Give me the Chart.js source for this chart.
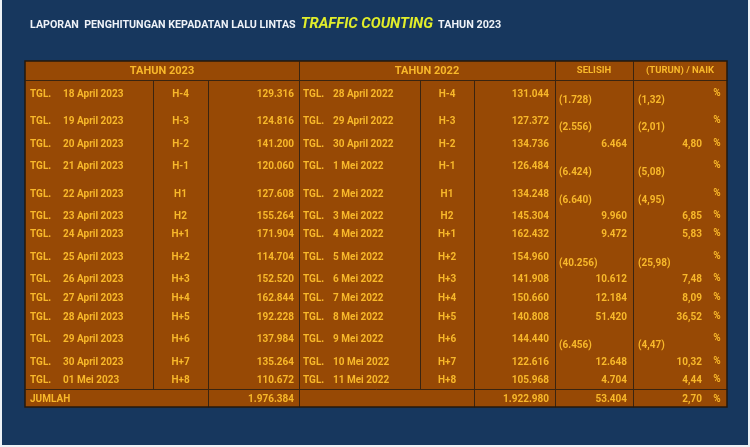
<!DOCTYPE html>
<html>
<head>
<meta charset="utf-8">
<script src="https://cdn.jsdelivr.net/npm/chart.js@4.4.1/dist/chart.umd.min.js"></script>
<style>
  html, body { margin: 0; padding: 0; background: #eef2f6; }
  #wrap { position: absolute; left: 2px; top: 0; width: 748px; height: 445px; }
</style>
</head>
<body>
<div id="wrap"><canvas id="tabel"></canvas></div>
<script>
// === DATA ===
const hari = ['H-4', 'H-3', 'H-2', 'H-1', 'H1', 'H2', 'H+1', 'H+2', 'H+3', 'H+4', 'H+5', 'H+6', 'H+7', 'H+8'];
const tanggal2023 = ['18 April 2023', '19 April 2023', '20 April 2023', '21 April 2023', '22 April 2023', '23 April 2023',
  '24 April 2023', '25 April 2023', '26 April 2023', '27 April 2023', '28 April 2023', '29 April 2023', '30 April 2023', '01 Mei 2023'];
const tanggal2022 = ['28 April 2022', '29 April 2022', '30 April 2022', '1 Mei 2022', '2 Mei 2022', '3 Mei 2022',
  '4 Mei 2022', '5 Mei 2022', '6 Mei 2022', '7 Mei 2022', '8 Mei 2022', '9 Mei 2022', '10 Mei 2022', '11 Mei 2022'];
const volume2023 = [129316, 124816, 141200, 120060, 127608, 155264, 171904, 114704, 152520, 162844, 192228, 137984, 135264, 110672];
const volume2022 = [131044, 127372, 134736, 126484, 134248, 145304, 162432, 154960, 141908, 150660, 140808, 144440, 122616, 105968];
const selisih = [-1728, -2556, 6464, -6424, -6640, 9960, 9472, -40256, 10612, 12184, 51420, -6456, 12648, 4704];
const persen = [-1.32, -2.01, 4.80, -5.08, -4.95, 6.85, 5.83, -25.98, 7.48, 8.09, 36.52, -4.47, 10.32, 4.44];
const jumlah = { v2023: 1976384, v2022: 1922980, selisih: 53404, persen: 2.70 };
const judulKolom = ['TAHUN 2023', 'TAHUN 2022', 'SELISIH', '(TURUN) / NAIK'];

// === LAYOUT (koordinat grid 0..750 x 0..447) ===
const kolom = [25, 153, 208, 299, 420, 474, 555, 633, 727];
const barisTengah = [94, 121, 144, 166, 194, 216, 234, 257, 279, 298, 317, 339, 362, 380];
const tabelAtas = 61, headerBawah = 80, garisJumlah = 389, tabelBawah = 407, barisJumlah = 399;

const WARNA_BG = '#17375e';
const WARNA_SEL = '#974905';
const WARNA_TEKS = '#f8b82a';
const WARNA_GARIS = '#3a2410';
const FONT = 'Roboto, "Open Sans", sans-serif';
const TEBAL = 'bold ';

// format angka pakai titik ribuan
function ribuan(n) {
  return String(Math.abs(n)).replace(/\B(?=(\d{3})+(?!\d))/g, '.');
}
function fmtSelisih(n) {
  return n < 0 ? '(' + ribuan(n) + ')' : ribuan(n);
}
function fmtPersen(p) {
  const s = Math.abs(p).toFixed(2).replace('.', ',');
  return p < 0 ? '(' + s + ')' : s;
}

const tabelPlugin = {
  id: 'tabel',
  beforeDraw(chart) {
    const ctx = chart.ctx;
    const sx = chart.scales.x, sy = chart.scales.y;
    const X = v => sx.getPixelForValue(v);
    const Y = v => sy.getPixelForValue(v);

    ctx.save();
    // latar biru
    ctx.fillStyle = WARNA_BG;
    ctx.fillRect(X(0), Y(0), X(748) - X(0), Y(445) - Y(0));

    // judul
    ctx.textBaseline = 'middle';
    ctx.textAlign = 'left';
    let tx = X(30);
    const ty = Y(25.5);
    ctx.fillStyle = '#eef2f8';
    ctx.font = TEBAL + '10.7px ' + FONT;
    const t1 = 'LAPORAN  PENGHITUNGAN KEPADATAN LALU LINTAS';
    ctx.fillText(t1, tx, ty);
    tx += ctx.measureText(t1).width + 5;
    ctx.fillStyle = '#e2ee2a';
    ctx.font = 'italic ' + TEBAL + '14.8px ' + FONT;
    const t2 = 'TRAFFIC COUNTING';
    ctx.fillText(t2, tx, ty - 1);
    tx += ctx.measureText(t2).width + 5;
    ctx.fillStyle = '#eef2f8';
    ctx.font = TEBAL + '10.8px ' + FONT;
    ctx.fillText('TAHUN 2023', tx, ty);

    // blok tabel
    ctx.fillStyle = WARNA_SEL;
    ctx.fillRect(X(kolom[0]), Y(tabelAtas), X(kolom[8]) - X(kolom[0]), Y(tabelBawah) - Y(tabelAtas));

    // garis
    ctx.strokeStyle = WARNA_GARIS;
    ctx.lineWidth = 1;
    const garis = (x1, y1, x2, y2) => {
      ctx.beginPath();
      ctx.moveTo(Math.round(X(x1)) + 0.5, Math.round(Y(y1)) + 0.5);
      ctx.lineTo(Math.round(X(x2)) + 0.5, Math.round(Y(y2)) + 0.5);
      ctx.stroke();
    };
    garis(kolom[0], headerBawah, kolom[8], headerBawah);
    garis(kolom[0], garisJumlah, kolom[8], garisJumlah);
    [3, 6, 7].forEach(i => garis(kolom[i], tabelAtas, kolom[i], tabelBawah));
    [1, 4].forEach(i => garis(kolom[i], headerBawah, kolom[i], garisJumlah));
    [2, 5].forEach(i => garis(kolom[i], headerBawah, kolom[i], tabelBawah));
    ctx.strokeStyle = '#24180c';
    ctx.lineWidth = 1.5;
    ctx.strokeRect(X(kolom[0]), Y(tabelAtas), X(kolom[8]) - X(kolom[0]), Y(tabelBawah) - Y(tabelAtas));

    // header
    ctx.fillStyle = WARNA_TEKS;
    ctx.textAlign = 'center';
    ctx.font = TEBAL + '11px ' + FONT;
    const hy = Y((tabelAtas + headerBawah) / 2 + 0.5);
    ctx.fillText(judulKolom[0], X((kolom[0] + kolom[3]) / 2), hy);
    ctx.fillText(judulKolom[1], X((kolom[3] + kolom[6]) / 2), hy);
    ctx.font = TEBAL + '9.5px ' + FONT;
    ctx.fillText(judulKolom[2], X((kolom[6] + kolom[7]) / 2), hy);
    ctx.fillText(judulKolom[3], X((kolom[7] + kolom[8]) / 2), hy);

    // isi baris
    ctx.font = TEBAL + '10px ' + FONT;
    hari.forEach((h, i) => {
      const y = Y(barisTengah[i]);
      const yBawah = Y(barisTengah[i] + 6);
      ctx.textAlign = 'left';
      ctx.fillText('TGL.', X(30), y);
      ctx.fillText(tanggal2023[i], X(63), y);
      ctx.fillText('TGL.', X(303), y);
      ctx.fillText(tanggal2022[i], X(333), y);
      ctx.textAlign = 'center';
      ctx.fillText(h, X((kolom[1] + kolom[2]) / 2), y);
      ctx.fillText(h, X((kolom[4] + kolom[5]) / 2), y);
      ctx.textAlign = 'right';
      ctx.fillText(ribuan(volume2023[i]), X(294), y);
      ctx.fillText(ribuan(volume2022[i]), X(549), y);
      if (selisih[i] < 0) {
        ctx.textAlign = 'left';
        ctx.fillText(fmtSelisih(selisih[i]), X(559), yBawah);
        ctx.fillText(fmtPersen(persen[i]), X(638), yBawah);
      } else {
        ctx.textAlign = 'right';
        ctx.fillText(fmtSelisih(selisih[i]), X(627), y);
        ctx.fillText(fmtPersen(persen[i]), X(702), y);
      }
      ctx.textAlign = 'center';
      ctx.fillText('%', X(717), Y(barisTengah[i] - 1));
    });

    // jumlah
    const jy = Y(barisJumlah);
    ctx.textAlign = 'left';
    ctx.fillText('JUMLAH', X(30), jy);
    ctx.textAlign = 'right';
    ctx.fillText(ribuan(jumlah.v2023), X(294), jy);
    ctx.fillText(ribuan(jumlah.v2022), X(549), jy);
    ctx.fillText(ribuan(jumlah.selisih), X(627), jy);
    ctx.fillText(fmtPersen(jumlah.persen), X(702), jy);
    ctx.textAlign = 'center';
    ctx.fillText('%', X(717), jy);
    ctx.restore();
  }
};

new Chart(document.getElementById('tabel'), {
  type: 'scatter',
  data: { datasets: [{ data: [] }] },
  options: {
    responsive: true,
    maintainAspectRatio: false,
    animation: false,
    layout: { padding: 0 },
    plugins: { legend: { display: false }, tooltip: { enabled: false } },
    scales: {
      x: { type: 'linear', min: 2, max: 750, display: false },
      y: { type: 'linear', min: 0, max: 445, reverse: true, display: false }
    }
  },
  plugins: [tabelPlugin]
});
</script>
</body>
</html>
